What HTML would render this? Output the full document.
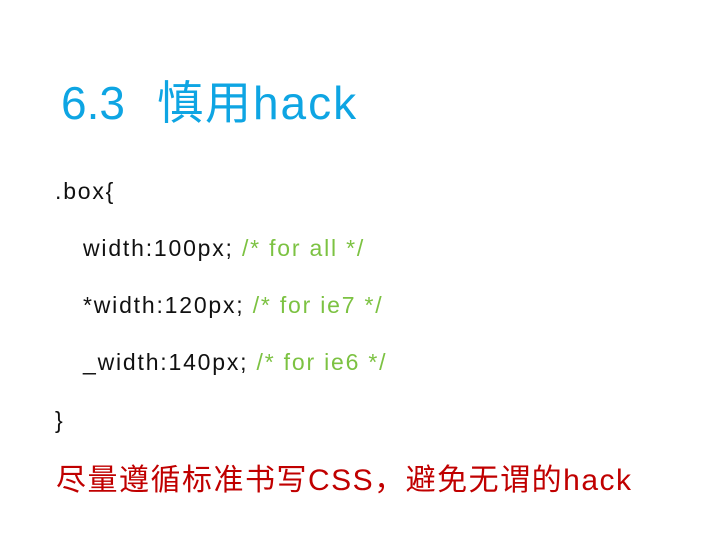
<!DOCTYPE html>
<html><head><meta charset="utf-8"><style>
body{margin:0;width:720px;height:540px;background:#fff;position:relative;overflow:hidden;font-family:"Liberation Sans","Noto Sans CJK SC",sans-serif;}
div{position:absolute;white-space:nowrap;line-height:1;}
.t{left:61px;top:80px;font-size:46px;color:#0ea5e3;}
.c{font-size:23px;color:#111;letter-spacing:1.8px;}
.g{color:#7cc242;}
.r{left:56px;top:466px;font-size:30px;color:#c00000;letter-spacing:1.5px;}
</style></head><body>
<div class="t">6.3<span style="margin-left:32px;letter-spacing:2px">慎用hack</span></div>
<div class="c" style="left:55px;top:180px">.box{</div>
<div class="c" style="left:83px;top:237px">width:100px; <span class="g">/* for all */</span></div>
<div class="c" style="left:83px;top:294px">*width:120px; <span class="g">/* for ie7 */</span></div>
<div class="c" style="left:83px;top:351px">_width:140px; <span class="g">/* for ie6 */</span></div>
<div class="c" style="left:55px;top:409px">}</div>
<div class="r">尽量遵循标准书写CSS，避免无谓的hack</div>
</body></html>
